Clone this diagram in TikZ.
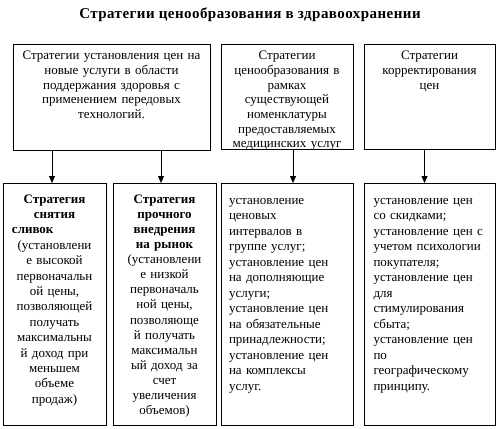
\documentclass[tikz,border=0pt]{standalone}
\usepackage{fontspec}
\setmainfont{Liberation Serif}
\usetikzlibrary{arrows.meta}
\begin{document}
\begin{tikzpicture}[x=1pt,y=-1pt,
 box/.style={draw, line width=0.8pt, inner sep=0pt, outer sep=0pt, anchor=north west},
 arr/.style={line width=0.8pt, -{Triangle[length=7pt,width=6pt]}},
 txt/.style={inner sep=0pt, anchor=north},
]
\useasboundingbox (0,0) rectangle (497,428);
\node[inner sep=0pt, font=\bfseries\fontsize{15}{17}\selectfont\addfontfeature{LetterSpace=3}] (title) at (250,15) {Стратегии ценообразования в здравоохранении};
% top boxes
\node[box, minimum width=197pt, minimum height=106pt] (t1) at (13,44) {};
\node[box, minimum width=132pt, minimum height=105pt] (t2) at (221,44) {};
\node[box, minimum width=131pt, minimum height=105pt] (t3) at (364,44) {};
\node[txt, align=center, text width=194pt, font=\fontsize{13}{14.7}\selectfont] (t1txt) at ([yshift=-5.2pt]t1.north)
 {\strut Стратегии установления цен на\\ новые услуги в области\\ поддержания здоровья с\\ применением передовых\\ технологий.};
\begin{scope}
\clip (t2.north west) rectangle (t2.south east);
\node[txt, align=center, text width=130pt, font=\fontsize{13}{14.7}\selectfont] (t2txt) at ([yshift=-5.2pt]t2.north)
 {\strut Стратегии\\ ценообразования в\\ рамках\\ существующей\\ номенклатуры\\ предоставляемых\\ медицинских услуг};
\end{scope}
\node[txt, align=center, text width=130pt, font=\fontsize{13}{14.7}\selectfont] (t3txt) at ([yshift=-5.2pt]t3.north)
 {\strut Стратегии\\ корректирования\\ цен};
% bottom boxes
\node[box, minimum width=103pt, minimum height=242pt] (bA) at (3,183) {};
\node[box, minimum width=103pt, minimum height=242pt] (bB) at (113,183) {};
\node[box, minimum width=132pt, minimum height=242pt] (bC) at (221,183) {};
\node[box, minimum width=131pt, minimum height=242pt] (bD) at (364,183) {};
\node[txt, align=center, text width=100pt, font=\fontsize{13}{15.4}\selectfont] (aTxt) at ([yshift=-9.2pt]bA.north)
 {\strut\textbf{Стратегия}\\ \textbf{снятия}\\ \leavevmode\hbox to 100pt{\hspace{7.5pt}\textbf{сливок}\hfil}\\ (установлени\\ е высокой\\ первоначальн\\ ой цены,\\ позволяющей\\ получать\\ максимальны\\ й доход при\\ меньшем\\ объеме\\ продаж)};
\node[txt, align=center, text width=100pt, font=\fontsize{13}{15.1}\selectfont] (bTxt) at ([yshift=-9.5pt]bB.north)
 {\strut\textbf{Стратегия}\\ \textbf{прочного}\\ \textbf{внедрения}\\ \textbf{на рынок}\\ (установлени\\ е низкой\\ первоначаль\\ ной цены,\\ позволяюще\\ й получать\\ максимальн\\ ый доход за\\ счет\\ увеличения\\ объемов)};
\node[txt, align=left, text width=118pt, font=\fontsize{13}{15.5}\selectfont] (cTxt) at ([xshift=1pt,yshift=-10.2pt]bC.north)
 {\strut установление\\ ценовых\\ интервалов в\\ группе услуг;\\ установление цен\\ на дополняющие\\ услуги;\\ установление цен\\ на обязательные\\ принадлежности;\\ установление цен\\ на комплексы\\ услуг.};
\node[txt, align=left, text width=118pt, font=\fontsize{13}{15.5}\selectfont] (dTxt) at ([xshift=3pt,yshift=-10.2pt]bD.north)
 {\strut установление цен\\ со скидками;\\ установление цен с\\ учетом психологии\\ покупателя;\\ установление цен\\ для\\ стимулирования\\ сбыта;\\ установление цен\\ по\\ географическому\\ принципу.};
% arrows
\draw[arr] ([xshift=-2.5pt]bA.north |- t1.south) -- ([xshift=-2.5pt]bA.north);
\draw[arr] ([xshift=-3.5pt]bB.north |- t1.south) -- ([xshift=-3.5pt]bB.north);
\draw[arr] ([xshift=6pt]t2.south) -- ([xshift=6pt]bC.north);
\draw[arr] ([xshift=-5pt]t3.south) -- ([xshift=-5pt]bD.north);
\end{tikzpicture}
\end{document}
